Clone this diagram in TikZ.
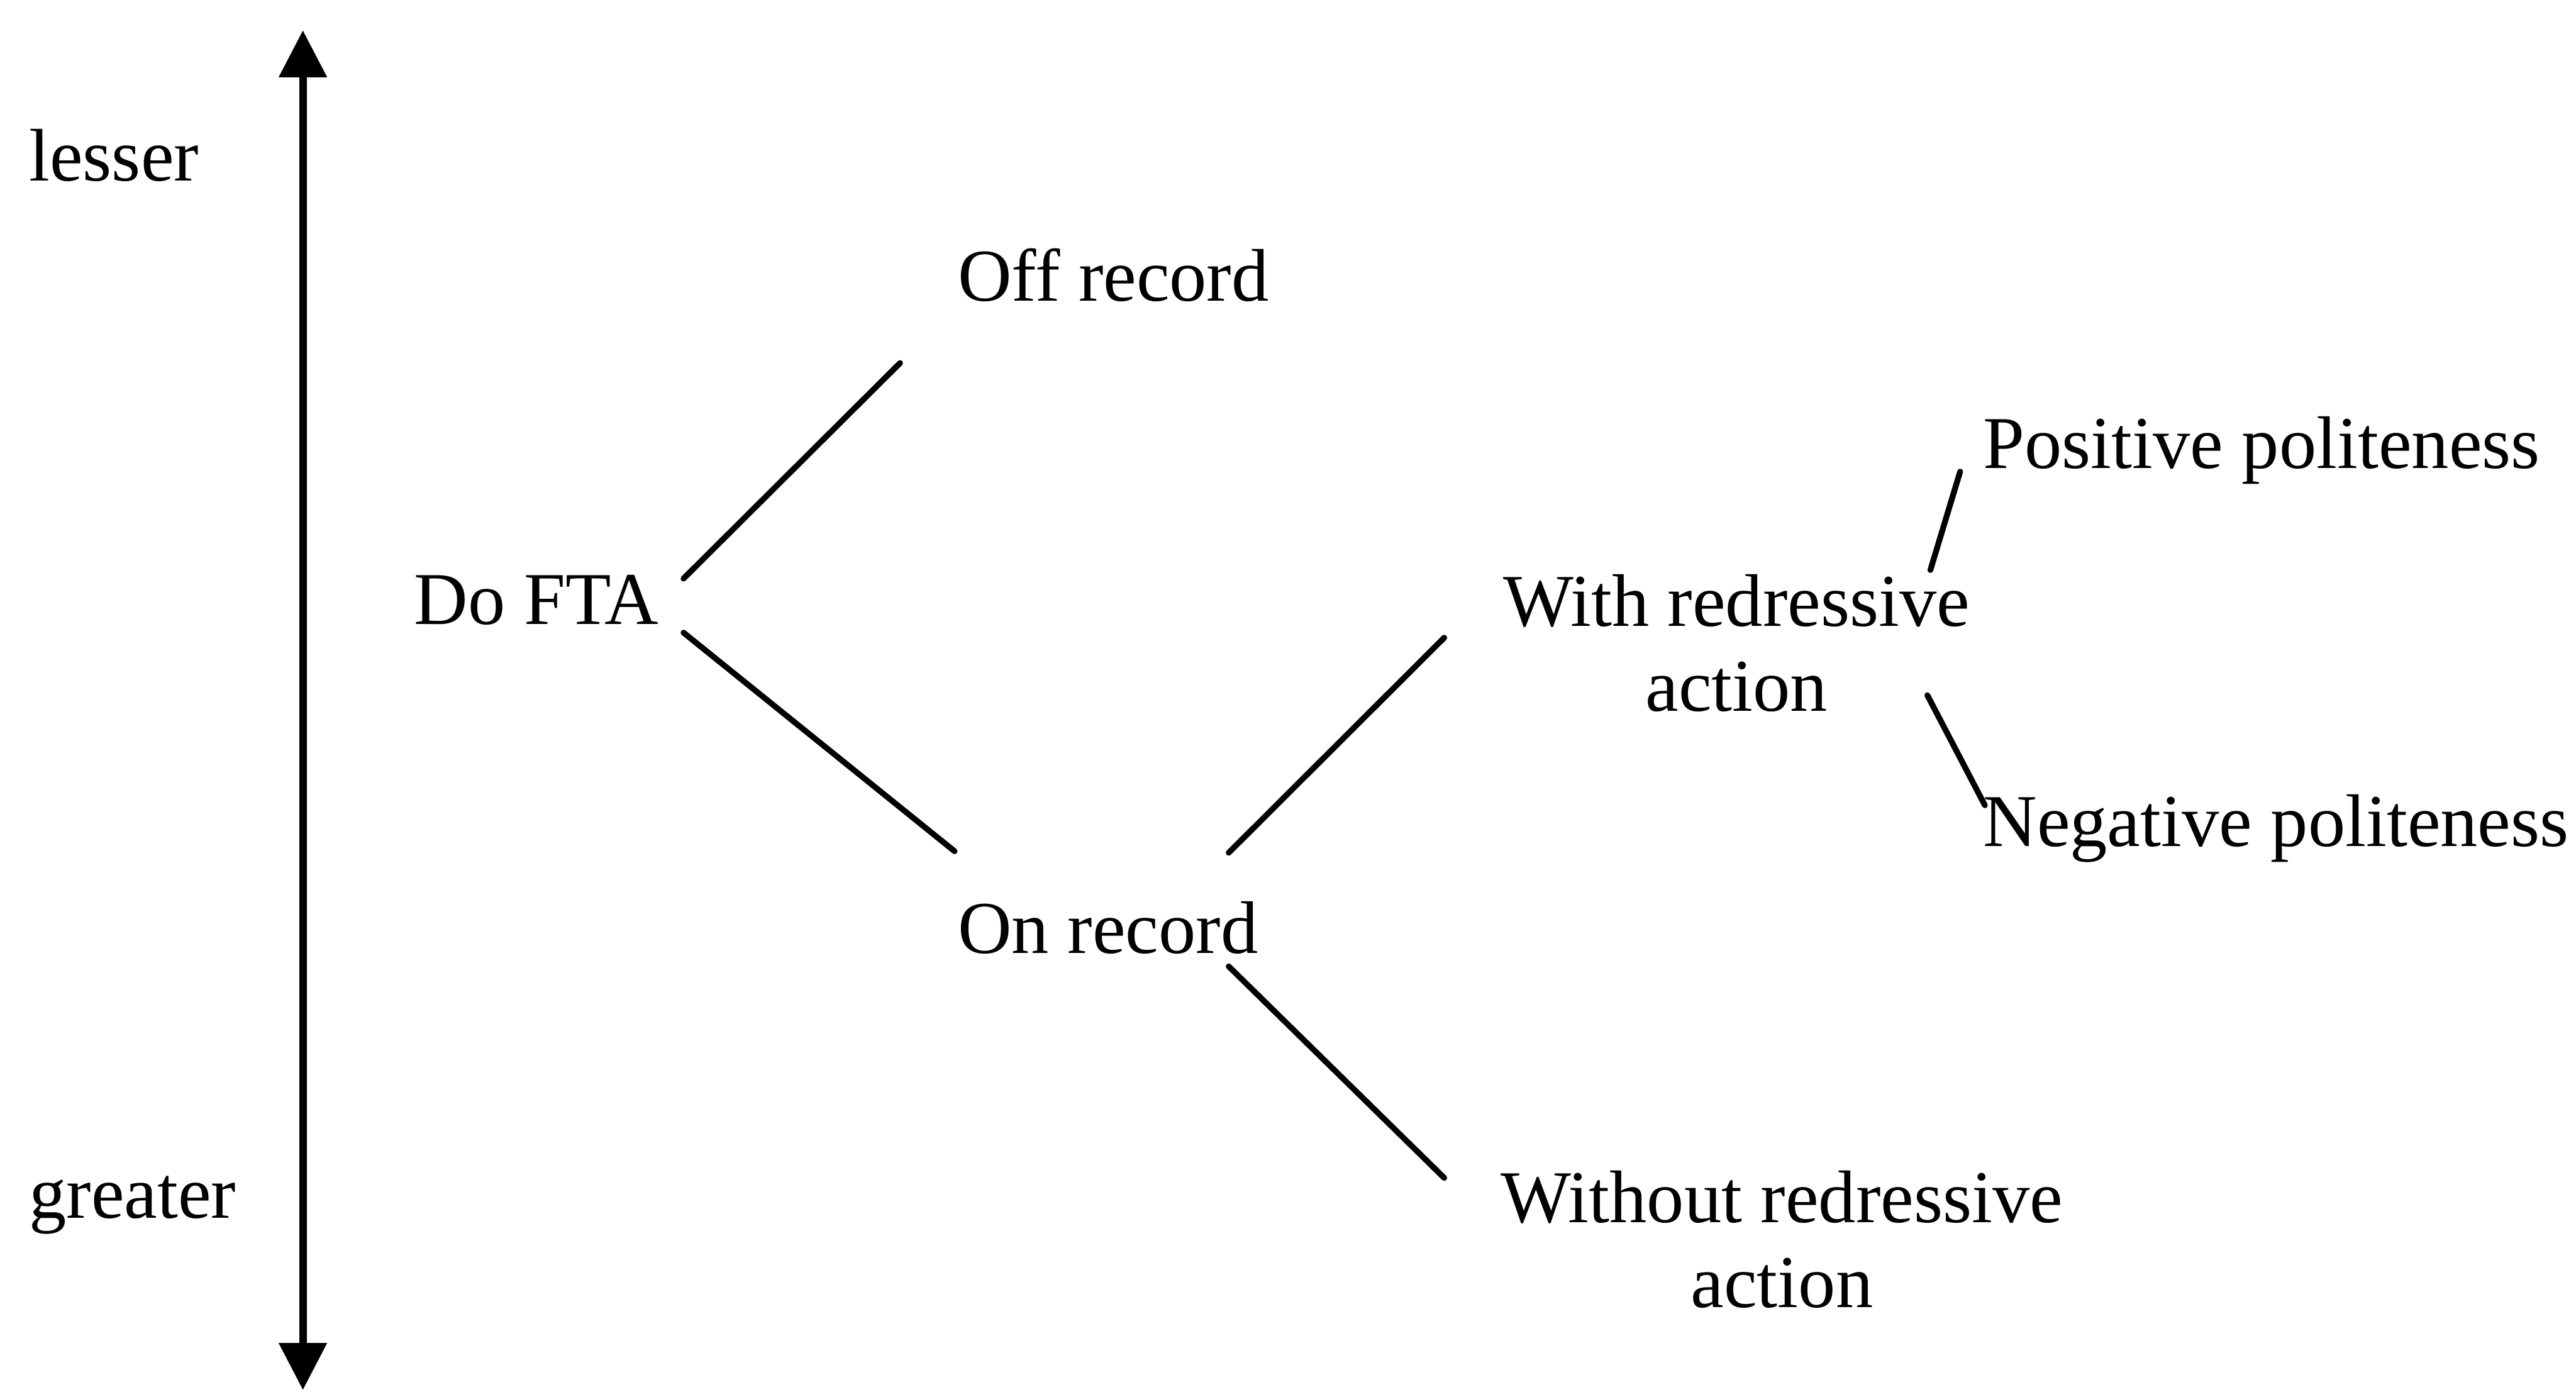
\documentclass[tikz,border=0pt]{standalone}
\usepackage{fontspec}
\setmainfont{Liberation Serif}
\usetikzlibrary{arrows.meta}
\begin{document}
\begin{tikzpicture}[
  lbl/.style={inner sep=0pt, font=\fontsize{42}{48}\selectfont},
  branch/.style={line width=0.115cm, line cap=round},
  axisarrow/.style={line width=0.15cm, {Triangle[width=0.92cm,length=0.93cm]}-{Triangle[width=0.92cm,length=0.93cm]}}
]
\useasboundingbox (0,0) rectangle (51.03,-27.56);
% vertical scale
\coordinate (top) at (6.00,-0.60);
\coordinate (bot) at (6.00,-27.53);
\draw[axisarrow] (top) -- (bot);
\node[lbl, anchor=base west] (lesser) at (0.57,-3.58) {lesser};
\node[lbl, anchor=base west] (greater) at (0.57,-24.13) {greater};
% nodes
\node[lbl, anchor=base west] (dofta) at (8.20,-12.37) {Do FTA};
\node[lbl, anchor=base west] (off) at (18.97,-5.96) {Off record};
\node[lbl, anchor=base west] (on) at (18.97,-18.88) {On record};
\node[lbl, anchor=base, align=center] (with) at (34.40,-14.09) {With redressive\\action};
\node[lbl, anchor=base, align=center] (without) at (35.30,-25.90) {Without redressive\\action};
\node[lbl, anchor=base west] (pos) at (39.28,-9.28) {Positive politeness};
\node[lbl, anchor=base west] (neg) at (39.28,-16.76) {Negative politeness};
% connector end points
\coordinate (d1) at (13.54,-11.46);
\coordinate (o1) at (17.83,-7.19);
\coordinate (d2) at (13.54,-12.53);
\coordinate (n1) at (18.91,-16.86);
\coordinate (n2) at (24.34,-16.89);
\coordinate (w1) at (28.61,-12.63);
\coordinate (n3) at (24.34,-19.14);
\coordinate (w2) at (28.61,-23.33);
\coordinate (p1) at (38.83,-9.34);
\coordinate (w3) at (38.24,-11.29);
\coordinate (w4) at (38.18,-13.77);
\coordinate (g1) at (39.32,-15.95);
% connectors
\draw[branch] (d1) -- (o1);
\draw[branch] (d2) -- (n1);
\draw[branch] (n2) -- (w1);
\draw[branch] (n3) -- (w2);
\draw[branch] (w3) -- (p1);
\draw[branch] (w4) -- (g1);
\end{tikzpicture}
\end{document}
